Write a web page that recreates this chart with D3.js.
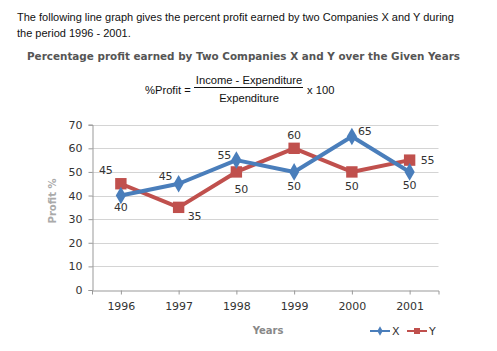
<!DOCTYPE html>
<html>
<head>
<meta charset="utf-8">
<script src="https://cdn.jsdelivr.net/npm/d3@7"></script>
<style>
  body { margin: 0; background: #fff; }
  svg { display: block; }
</style>
</head>
<body>
<svg id="chart"></svg>
<script>
// data
var years = ["1996", "1997", "1998", "1999", "2000", "2001"];
var profitX = [40, 45, 55, 50, 65, 50];
var profitY = [45, 35, 50, 60, 50, 55];
var yTicks = [0, 10, 20, 30, 40, 50, 60, 70];

// where each value label sits relative to its point
var labelAtX = [[0, 12], [-13, -8], [-12, -5], [0, 14], [13, -5], [0, 13]];
var labelAtY = [[-15, -14], [16, 9], [5, 17], [0, -13], [0, 14], [18, 0]];

var W = 497, H = 351;
var svg = d3.select("#chart").attr("width", W).attr("height", H);

// header text
var hf = "11px 'Liberation Sans', Arial, sans-serif";
svg.append("text").attr("x", 17).attr("y", 21)
  .style("font", hf).attr("fill", "#111")
  .text("The following line graph gives the percent profit earned by two Companies X and Y during");
svg.append("text").attr("x", 17).attr("y", 37)
  .style("font", hf).attr("fill", "#111")
  .text("the period 1996 - 2001.");

svg.append("text").attr("x", 27).attr("y", 60)
  .attr("textLength", 433).attr("lengthAdjust", "spacingAndGlyphs")
  .style("font", "bold 11px 'DejaVu Sans', Verdana, sans-serif").attr("fill", "#555")
  .text("Percentage profit earned by Two Companies X and Y over the Given Years");

// formula
var ff = "11.2px 'Liberation Sans', Arial, sans-serif";
svg.append("text").attr("x", 145).attr("y", 94).style("font", ff).attr("fill", "#111").text("%Profit =");
svg.append("text").attr("x", 249).attr("y", 84).attr("text-anchor", "middle").style("font", ff).attr("fill", "#111").text("Income - Expenditure");
svg.append("line").attr("x1", 194).attr("x2", 303).attr("y1", 87.5).attr("y2", 87.5).attr("stroke", "#111").attr("stroke-width", 1);
svg.append("text").attr("x", 249).attr("y", 102).attr("text-anchor", "middle").style("font", ff).attr("fill", "#111").text("Expenditure");
svg.append("text").attr("x", 307).attr("y", 94).style("font", ff).attr("fill", "#111").text("x 100");

// plot
var pLeft = 92, pRight = 438.5, pTop = 124.7, pBottom = 290;
var x = d3.scalePoint().domain(years).range([pLeft, pRight]).padding(0.5);
var y = d3.scaleLinear().domain([0, 70]).range([pBottom, pTop]);
var tickFont = "11px 'DejaVu Sans', Verdana, sans-serif";

svg.append("g").selectAll("line").data(yTicks.slice(1)).join("line")
  .attr("x1", pLeft).attr("x2", pRight)
  .attr("y1", d => Math.round(y(d)) + 0.5).attr("y2", d => Math.round(y(d)) + 0.5)
  .attr("stroke", "#d4d4d4");

var yAxis = svg.append("g").attr("transform", `translate(${pLeft + 0.5},0)`)
  .call(d3.axisLeft(y).tickValues(yTicks).tickSize(4).tickPadding(6));
yAxis.select(".domain").attr("stroke", "#999");
yAxis.selectAll(".tick line").attr("stroke", "#999");
yAxis.selectAll("text").style("font", tickFont).attr("fill", "#333");

var xAxis = svg.append("g").attr("transform", `translate(0,${pBottom + 0.5})`)
  .call(d3.axisBottom(x).tickSizeInner(4).tickSizeOuter(4).tickPadding(8));
xAxis.select(".domain").attr("stroke", "#999");
xAxis.selectAll(".tick line").attr("stroke", "#999");
xAxis.selectAll("text").style("font", tickFont).attr("fill", "#333");

svg.append("text").attr("transform", "translate(56,201) rotate(-90)")
  .attr("text-anchor", "middle").style("font", "bold 10px 'DejaVu Sans', Verdana, sans-serif")
  .attr("fill", "#aaa").text("Profit %");
svg.append("text").attr("x", 268).attr("y", 334).attr("text-anchor", "middle")
  .style("font", "bold 10px 'DejaVu Sans', Verdana, sans-serif").attr("fill", "#888").text("Years");

var blue = "#4a7ebb", red = "#c0504d";
var line = d3.line().x(d => x(d[0])).y(d => y(d[1]));

function drawSeries(vals, color, shape, size, offsets) {
  var pts = years.map((yr, i) => [yr, vals[i]]);
  svg.append("path").datum(pts).attr("d", line)
    .attr("fill", "none").attr("stroke", color).attr("stroke-width", 4).attr("stroke-linejoin", "round");
  svg.append("g").selectAll("path").data(pts).join("path")
    .attr("transform", d => `translate(${x(d[0])},${y(d[1])})`)
    .attr("d", d3.symbol().type(shape).size(size))
    .attr("fill", color);
  svg.append("g").selectAll("text").data(pts).join("text")
    .attr("x", (d, i) => x(d[0]) + offsets[i][0])
    .attr("y", (d, i) => y(d[1]) + offsets[i][1])
    .attr("dy", "0.35em").attr("text-anchor", "middle")
    .style("font", tickFont).attr("fill", "#333")
    .text(d => d[1]);
}
drawSeries(profitY, red, d3.symbolSquare, 130, labelAtY);
drawSeries(profitX, blue, d3.symbolDiamond, 90, labelAtX);

// legend
var lg = svg.append("g").attr("transform", "translate(370,331)");
lg.append("line").attr("x1", 0).attr("x2", 20).attr("stroke", blue).attr("stroke-width", 2);
lg.append("path").attr("transform", "translate(10,0)").attr("d", d3.symbol().type(d3.symbolDiamond).size(25)).attr("fill", blue);
lg.append("text").attr("x", 22).attr("dy", "0.35em").style("font", tickFont).attr("fill", "#333").text("X");
lg.append("line").attr("x1", 37).attr("x2", 57).attr("stroke", red).attr("stroke-width", 2);
lg.append("rect").attr("x", 44).attr("y", -3).attr("width", 6).attr("height", 6).attr("fill", red);
lg.append("text").attr("x", 59).attr("dy", "0.35em").style("font", tickFont).attr("fill", "#333").text("Y");
</script>
</body>
</html>
